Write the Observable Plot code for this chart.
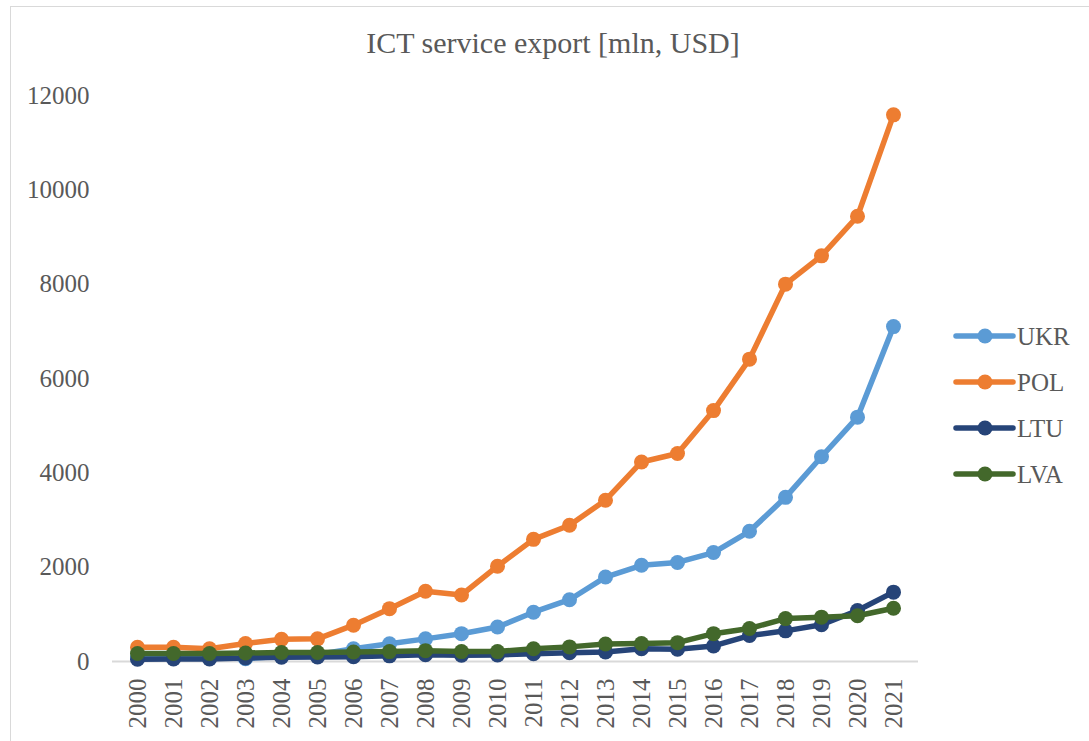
<!DOCTYPE html>
<html>
<head>
<meta charset="utf-8">
<script src="https://cdn.jsdelivr.net/npm/d3@7"></script>
<script src="https://cdn.jsdelivr.net/npm/@observablehq/plot@0.6"></script>
<style>
  html, body { margin: 0; padding: 0; background: #fff; }
  body { width: 1089px; height: 741px; overflow: hidden; position: relative; font-family: "Liberation Serif", "DejaVu Serif", serif; color: #595959; }
  #frame { position: absolute; left: 10px; top: 6px; width: 1300px; height: 1000px; border: 1px solid #d9d9d9; box-sizing: border-box; }
  #title { position: absolute; left: 0; top: 28px; width: 1106px; text-align: center; font-size: 30px; line-height: 30px; white-space: nowrap; }
  #chart { position: absolute; left: 0; top: 0; }
  #legend { position: absolute; left: 0; top: 0; }
</style>
</head>
<body>
<div id="frame"></div>
<div id="title">ICT service export [mln, USD]</div>
<div id="chart"></div>
<div id="legend"></div>
<script>
const years = ["2000","2001","2002","2003","2004","2005","2006","2007","2008","2009","2010",
               "2011","2012","2013","2014","2015","2016","2017","2018","2019","2020","2021"];
const seriesNames = ["UKR", "POL", "LTU", "LVA"];
const seriesColors = ["#5B9BD5", "#ED7D31", "#264478", "#43682B"];
const ukr = [110, 100, 90, 60, 110, 150, 270, 375, 480, 590, 730, 1045, 1310, 1790, 2040, 2100, 2310, 2760, 3480, 4340, 5180, 7100];
const pol = [300, 300, 270, 380, 470, 480, 770, 1120, 1490, 1410, 2020, 2590, 2890, 3420, 4230, 4410, 5320, 6410, 8000, 8600, 9440, 11590];
const ltu = [50, 55, 55, 75, 90, 95, 100, 120, 145, 135, 140, 165, 185, 200, 270, 260, 330, 550, 650, 780, 1080, 1470];
const lva = [170, 170, 170, 180, 190, 190, 200, 210, 230, 210, 210, 270, 310, 370, 380, 400, 590, 700, 910, 940, 970, 1130];
const yTicks = [0, 2000, 4000, 6000, 8000, 10000, 12000];

const seriesValues = [ukr, pol, ltu, lva];
const seriesData = seriesNames.map((name, i) =>
  years.map((yr, j) => ({ year: yr, value: seriesValues[i][j], series: name }))
);

const seriesMarks = [];
seriesData.forEach((data, i) => {
  seriesMarks.push(Plot.line(data, {
    x: "year", y: "value", stroke: seriesColors[i], strokeWidth: 5.5,
    strokeLinejoin: "round", strokeLinecap: "round"
  }));
  seriesMarks.push(Plot.dot(data, {
    x: "year", y: "value", r: 7.5, fill: seriesColors[i], stroke: "none"
  }));
});

const chart = Plot.plot({
  width: 1089,
  height: 741,
  marginLeft: 112,
  marginRight: 171,
  marginTop: 95,
  marginBottom: 80,
  x: { type: "point", domain: years, padding: 0.5, label: null },
  y: { domain: [0, 12000], label: null },
  style: { fontFamily: "Liberation Serif", fontSize: "25px", color: "#595959", background: "transparent", overflow: "visible" },
  marks: [
    Plot.ruleY([0], { stroke: "#d9d9d9", strokeWidth: 2 }),
    Plot.axisY({ ticks: yTicks, tickSize: 0, tickPadding: 23, tickFormat: "d", label: null }),
    Plot.axisX({ tickRotate: -90, tickSize: 0, tickPadding: 17, label: null }),
    ...seriesMarks
  ]
});
document.getElementById("chart").appendChild(chart);

// Legend
const legendRowsY = [336, 382, 428, 474];
const lg = d3.select("#legend").append("svg")
  .attr("width", 1089).attr("height", 741)
  .style("position", "absolute").style("left", "0px").style("top", "0px")
  .style("overflow", "visible");
seriesNames.forEach((name, i) => {
  const y = legendRowsY[i];
  const g = lg.append("g");
  g.append("line").attr("x1", 956).attr("x2", 1013).attr("y1", y).attr("y2", y)
    .attr("stroke", seriesColors[i]).attr("stroke-width", 5.5).attr("stroke-linecap", "round");
  g.append("circle").attr("cx", 985).attr("cy", y).attr("r", 7.5).attr("fill", seriesColors[i]);
  g.append("text").attr("x", 1017).attr("y", y + 9)
    .attr("font-family", "Liberation Serif").attr("font-size", 25).attr("fill", "#595959")
    .text(name);
});
</script>
</body>
</html>
